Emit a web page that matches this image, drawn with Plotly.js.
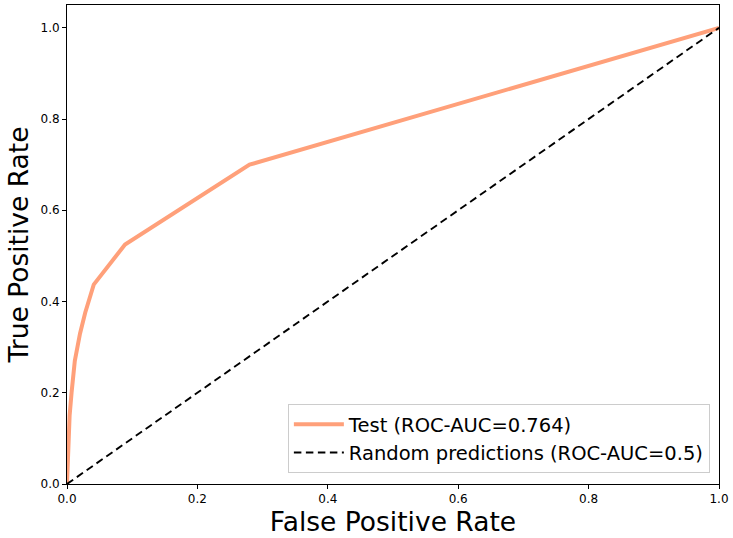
<!DOCTYPE html>
<html>
<head>
<meta charset="utf-8">
<script src="https://cdn.plot.ly/plotly-3.0.1.min.js"></script>
<style>html,body{margin:0;padding:0;background:#fff;}#chart{width:733px;height:538px;}</style>
</head>
<body>
<div id="chart"></div>
<script>
const fprTest = [0, 0.001, 0.002, 0.004, 0.007, 0.012, 0.02, 0.028, 0.041, 0.089, 0.280, 1.0];
const tprTest = [0, 0.06, 0.10, 0.15, 0.20, 0.27, 0.33, 0.376, 0.437, 0.525, 0.700, 1.0];
const fprRandom = [0, 1];
const tprRandom = [0, 1];
const tickVals = [0, 0.2, 0.4, 0.6, 0.8, 1.0];
const tickText = ["0.0", "0.2", "0.4", "0.6", "0.8", "1.0"];

const font = "DejaVu Sans, sans-serif";
const traces = [
  {x: fprTest, y: tprTest, mode: "lines", name: "Test (ROC-AUC=0.764)",
   line: {color: "#FFA07A", width: 4}},
  {x: fprRandom, y: tprRandom, mode: "lines", name: "Random predictions (ROC-AUC=0.5)",
   line: {color: "#000000", width: 1.9, dash: "7.5px,4.5px"}}
];
const axisCommon = {
  showgrid: false, zeroline: false, showline: true, linecolor: "#000", linewidth: 1,
  mirror: true, ticks: "outside", ticklen: 4, tickcolor: "#000", tickwidth: 1,
  tickvals: tickVals, ticktext: tickText, tickfont: {family: font, size: 12, color: "#000"}
};
const layout = {
  width: 733, height: 538,
  margin: {l: 67, r: 14, t: 5, b: 54},
  paper_bgcolor: "#fff", plot_bgcolor: "#fff",
  font: {family: font, color: "#000"},
  xaxis: Object.assign({}, axisCommon, {range: [0, 1],
    title: {text: "False Positive Rate", font: {family: font, size: 26.5, color: "#000"}, standoff: 4}}),
  yaxis: Object.assign({}, axisCommon, {range: [0, 1.05],
    title: {text: "True Positive Rate", font: {family: font, size: 26.5, color: "#000"}, standoff: 4}}),
  legend: {x: 0.986, y: 0.023, xanchor: "right", yanchor: "bottom",
    bgcolor: "rgba(255,255,255,0.8)", bordercolor: "#cccccc", borderwidth: 1,
    itemwidth: 50,
    font: {family: font, size: 19.5, color: "#000"}, tracegroupgap: 0},
  showlegend: true
};
Plotly.newPlot("chart", traces, layout, {displayModeBar: false, staticPlot: true});
</script>
</body>
</html>
